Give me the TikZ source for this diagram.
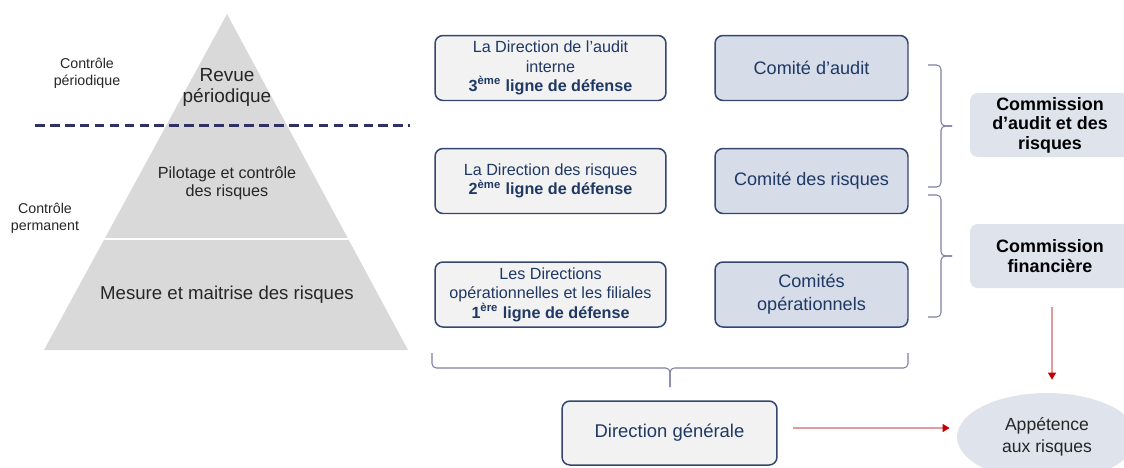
\documentclass[tikz,border=0pt]{standalone}
\usepackage{fontspec}
\setmainfont{Liberation Sans}
\usepackage{tikz}
\usetikzlibrary{positioning, calc}
\usetikzlibrary{arrows.meta}
\usetikzlibrary{shapes}

\definecolor{navy}{HTML}{34466F}
\definecolor{navytext}{HTML}{1F3864}
\definecolor{pyrgray}{HTML}{D9D9D9}
\definecolor{lightbox}{HTML}{F2F2F2}
\definecolor{bluebox}{HTML}{D6DCE8}
\definecolor{commbox}{HTML}{DEE3EC}
\definecolor{bracecol}{HTML}{7E7EA6}
\definecolor{dashcol}{HTML}{2E3066}
\definecolor{arrowred}{HTML}{C00000}
\definecolor{arrowline}{HTML}{E49A9A}
\definecolor{darktext}{HTML}{262626}

\begin{document}
\begin{tikzpicture}[x=0.02cm,y=-0.02cm]
	\def \rowone{68}
	\def \rowtwo{181}
	\def \rowthree{294.5}
	\def \colleft{550.5}
	\def \colright{811.5}
	\tikzstyle{line-box}=[draw=navy,line width=0.85pt,fill=lightbox,rounded corners=4.5pt,minimum width=4.62cm,minimum height=1.3cm,text=navytext,align=center,inner sep=1pt,font=\fontsize{9.2}{11.1}\selectfont]
	\tikzstyle{comite-box}=[line-box,fill=bluebox,minimum width=3.86cm,font=\fontsize{10.3}{12.9}\selectfont]
	\tikzstyle{comm-box}=[fill=commbox,rounded corners=4.5pt,minimum width=3.2cm,minimum height=1.28cm,text=black,align=center,inner sep=1pt,font=\bfseries\fontsize{10.2}{11.1}\selectfont]
	\tikzstyle{pyr-text}=[text=darktext,align=center,inner sep=0pt]
	\tikzstyle{side-text}=[text=darktext,align=center,inner sep=0pt,font=\fontsize{8.1}{9.5}\selectfont]
	\tikzstyle{brace-line}=[draw=bracecol,line width=0.6pt,rounded corners=2.5pt]
	\tikzstyle{red-arrow}=[draw=arrowline,line width=0.8pt,-{Triangle[length=4pt,width=4.5pt,color=arrowred]}]
	\path[use as bounding box,clip] (0,0) rectangle (1124,467);

	% pyramid
	\coordinate (apex) at (227,14);
	\coordinate (base-l) at (44,350);
	\coordinate (base-r) at (408,350);
	\fill[pyrgray] (apex) -- (base-r) -- (base-l) -- cycle;
	\draw[white,line width=0.7pt] ($(apex)!0.6696!(base-l)$) -- ($(apex)!0.6696!(base-r)$);
	\draw[dashcol,line width=1.3pt,dash pattern=on 5.5pt off 3pt] (35,125.5) -- (410,125.5);

	% labels
	\node[side-text] (periodique) at (87,73) {Contrôle\\périodique};
	\node[side-text] (permanent) at (45,218) {Contrôle\\permanent};
	\node[pyr-text,font=\fontsize{10.8}{12}\selectfont] (revue) at (227,87) {Revue\\périodique};
	\node[pyr-text,font=\fontsize{9.2}{10.2}\selectfont] (pilotage) at (227,183) {Pilotage et contrôle\\des risques};
	\node[pyr-text,font=\fontsize{10.6}{12}\selectfont] (mesure) at (227,295) {Mesure et maitrise des risques};

	% lines of defence
	\node[line-box] (audit) at (\colleft,\rowone) {La Direction de l’audit\\interne\\\textbf{3\textsuperscript{ème} ligne de défense}};
	\node[line-box] (risques) at (\colleft,\rowtwo) {La Direction des risques\\\textbf{2\textsuperscript{ème} ligne de défense}};
	\node[line-box] (operat) at (\colleft,\rowthree) {Les Directions\\opérationnelles et les filiales\\\textbf{1\textsuperscript{ère} ligne de défense}};

	% committees
	\node[comite-box] (c-audit) at (\colright,\rowone) {Comité d’audit};
	\node[comite-box] (c-risques) at (\colright,\rowtwo) {Comité des risques};
	\node[comite-box] (c-operat) at (\colright,\rowthree) {Comités\\opérationnels};

	% board commissions
	\node[comm-box] (comm-ar) at (1050,125) {Commission\\d’audit et des\\risques};
	\node[comm-box] (comm-fin) at (1050,256) {Commission\\financière};

	\node[line-box,minimum width=4.3cm,minimum height=1.28cm,font=\fontsize{10.5}{12.6}\selectfont] (dg) at (669.5,433) {Direction générale};
	\node[ellipse,fill=commbox,minimum width=3.6cm,minimum height=1.76cm,text=darktext,align=center,inner sep=0pt,font=\fontsize{10}{12.6}\selectfont] (appetit) at (1047,437) {Appétence\\aux risques};

	% braces
	\coordinate (b1-top) at (928,65);
	\coordinate (b1-tip) at (952,126);
	\coordinate (b1-bot) at (928,187);
	\coordinate (b2-top) at (928,195);
	\coordinate (b2-tip) at (952,256);
	\coordinate (b2-bot) at (928,317);
	\coordinate (b3-l) at (432,353);
	\coordinate (b3-tip) at (670,387);
	\coordinate (b3-r) at (908,353);
	\draw[brace-line] (b1-top) -- ++(13,0) |- (b1-tip);
	\draw[brace-line] (b1-bot) -- ++(13,0) |- (b1-tip);
	\draw[brace-line] (b2-top) -- ++(13,0) |- (b2-tip);
	\draw[brace-line] (b2-bot) -- ++(13,0) |- (b2-tip);
	\draw[brace-line] (b3-l) -- ++(0,15) -| (b3-tip);
	\draw[brace-line] (b3-r) -- ++(0,15) -| (b3-tip);

	% arrows
	\path
		(dg.east |- 0,428)	edge[red-arrow,shorten <=0.3cm,shorten >=0.14cm]	(appetit.west |- 0,428)
		(comm-fin.south -| 1052,0)	edge[red-arrow,shorten <=0.38cm,shorten >=0.26cm]	(appetit.north -| 1052,0);
\end{tikzpicture}
\end{document}
